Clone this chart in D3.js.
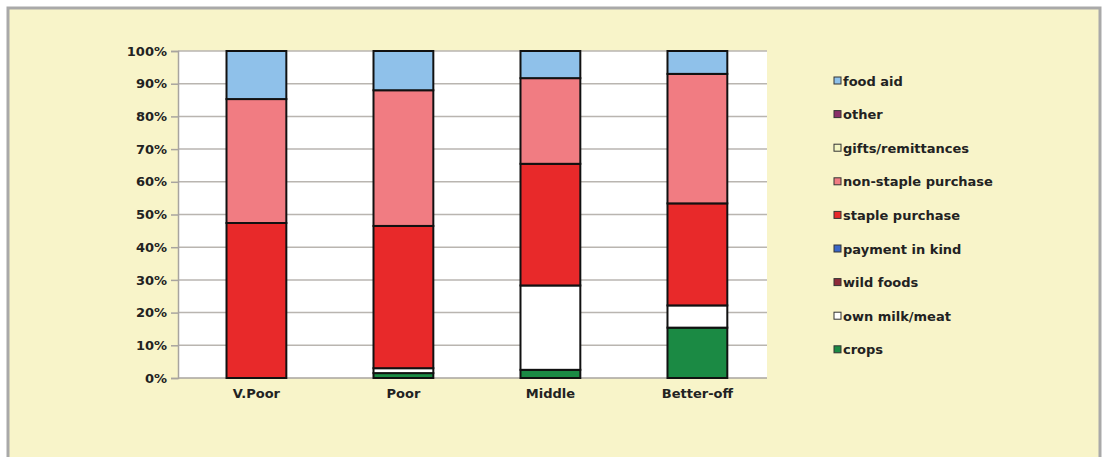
<!DOCTYPE html>
<html>
<head>
<meta charset="utf-8">
<script src="https://cdn.jsdelivr.net/npm/d3@7"></script>
<style>
  body { margin: 0; background: #fff; }
  text { font-family: "DejaVu Sans", Arial, sans-serif; font-weight: bold; }
</style>
</head>
<body>
<svg id="chart" width="1108" height="457"></svg>
<script>
// Wealth groups along the x axis
const groups = ['V.Poor', 'Poor', 'Middle', 'Better-off'];

// Stack order, bottom to top
const sources = ['crops', 'own milk/meat', 'wild foods', 'payment in kind',
  'staple purchase', 'non-staple purchase', 'gifts/remittances', 'other', 'food aid'];

// Share of food (%) per source, one value per group
const crops = [0, 1.5, 2.5, 15.4];
const ownMilkMeat = [0, 1.5, 25.8, 6.8];
const wildFoods = [0, 0, 0, 0];
const paymentInKind = [0, 0, 0, 0];
const staplePurchase = [47.4, 43.5, 37.2, 31.2];
const nonStaplePurchase = [37.9, 41.5, 26.2, 39.6];
const giftsRemittances = [0, 0, 0, 0];
const other = [0, 0, 0, 0];
const foodAid = [14.7, 12, 8.3, 7];

const yTicks = [0, 10, 20, 30, 40, 50, 60, 70, 80, 90, 100];

const colors = {
  'crops': '#1b8a44',
  'own milk/meat': '#ffffff',
  'wild foods': '#8e2a3a',
  'payment in kind': '#3a66c8',
  'staple purchase': '#e8292a',
  'non-staple purchase': '#f17c82',
  'gifts/remittances': '#f4f6c4',
  'other': '#8a2f68',
  'food aid': '#8fc1ea'
};

const seriesValues = [crops, ownMilkMeat, wildFoods, paymentInKind, staplePurchase,
  nonStaplePurchase, giftsRemittances, other, foodAid];

// build rows for d3.stack
const rows = groups.map((g, i) => {
  const row = { group: g };
  sources.forEach((s, j) => { row[s] = seriesValues[j][i]; });
  return row;
});

const svg = d3.select('#chart');

// background panel with grey frame
svg.append('rect')
  .attr('x', 8).attr('y', 8)
  .attr('width', 1092).attr('height', 480)
  .attr('fill', '#f8f4c9')
  .attr('stroke', '#a9a9a9')
  .attr('stroke-width', 3);

const margin = { left: 178, right: 767, top: 51, bottom: 378 };

const x = d3.scaleBand()
  .domain(groups)
  .range([margin.left, margin.right])
  .paddingInner(0.593)
  .paddingOuter(0.3)
  .align(0.55);

const y = d3.scaleLinear()
  .domain([0, 100])
  .range([margin.bottom, margin.top]);

// plot area
svg.append('rect')
  .attr('x', margin.left).attr('y', margin.top)
  .attr('width', margin.right - margin.left)
  .attr('height', margin.bottom - margin.top)
  .attr('fill', '#ffffff');

// gridlines
svg.append('g')
  .selectAll('line')
  .data(yTicks.slice(1))
  .enter().append('line')
  .attr('x1', margin.left).attr('x2', margin.right)
  .attr('y1', d => y(d)).attr('y2', d => y(d))
  .attr('stroke', '#b9b5b0')
  .attr('stroke-width', 1.5);

// y axis
const yAxis = svg.append('g')
  .attr('transform', `translate(${margin.left},0)`)
  .call(d3.axisLeft(y).tickValues(yTicks).tickFormat(d => d + '%').tickSize(7).tickPadding(4));
yAxis.selectAll('line').attr('stroke', '#a8a49f').attr('stroke-width', 1.5);
yAxis.select('.domain').attr('stroke', '#a8a49f').attr('stroke-width', 1.5);
yAxis.selectAll('text').attr('font-size', 13).attr('fill', '#222');

// x axis line
svg.append('line')
  .attr('x1', margin.left).attr('x2', margin.right)
  .attr('y1', margin.bottom).attr('y2', margin.bottom)
  .attr('stroke', '#a8a49f').attr('stroke-width', 1.5);

// x labels
svg.append('g')
  .selectAll('text')
  .data(groups)
  .enter().append('text')
  .attr('x', d => x(d) + x.bandwidth() / 2)
  .attr('y', 398)
  .attr('text-anchor', 'middle')
  .attr('font-size', 13)
  .attr('fill', '#222')
  .text(d => d);

// stacked bars
const stacked = d3.stack().keys(sources)(rows);

svg.append('g')
  .selectAll('g')
  .data(stacked)
  .enter().append('g')
  .attr('fill', d => colors[d.key])
  .selectAll('rect')
  .data(d => d.filter(p => p[1] - p[0] > 0))
  .enter().append('rect')
  .attr('x', d => x(d.data.group))
  .attr('y', d => y(d[1]))
  .attr('width', x.bandwidth())
  .attr('height', d => y(d[0]) - y(d[1]))
  .attr('stroke', '#111')
  .attr('stroke-width', 2);

// legend, top item is food aid
const legendItems = sources.slice().reverse();
const legend = svg.append('g')
  .selectAll('g')
  .data(legendItems)
  .enter().append('g')
  .attr('transform', (d, i) => `translate(834,${81 + i * 33.6})`);

legend.append('rect')
  .attr('x', 0).attr('y', -4)
  .attr('width', 7).attr('height', 7)
  .attr('fill', d => colors[d])
  .attr('stroke', '#333')
  .attr('stroke-width', 1);

legend.append('text')
  .attr('x', 9).attr('y', 4.5)
  .attr('font-size', 13)
  .attr('fill', '#222')
  .text(d => d);
</script>
</body>
</html>
